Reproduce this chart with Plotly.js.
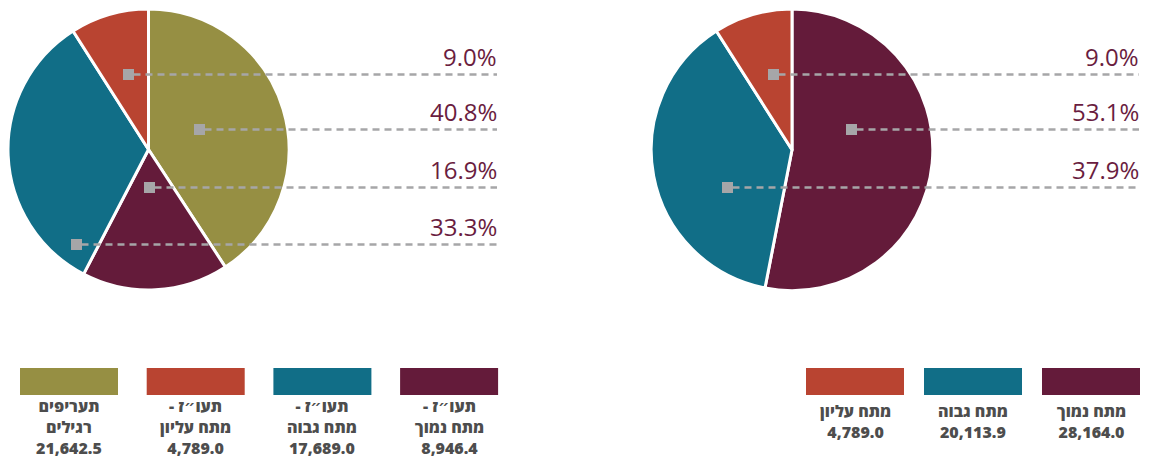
<!DOCTYPE html>
<html>
<head>
<meta charset="utf-8">
<script src="https://cdn.plot.ly/plotly-3.0.1.min.js"></script>
<style>
  html, body { margin: 0; padding: 0; background: #fff; }
  #chart { width: 1154px; height: 459px; }
</style>
</head>
<body>
<div id="chart"></div>
<script>
// left pie: by tariff type
const leftKeys = ['regular', 'low', 'high', 'top'];
const leftValues = [21642.5, 8946.4, 17689.0, 4789.0];
const leftLegendOrder = ['regular', 'top', 'high', 'low'];

// right pie: by voltage
const rightKeys = ['low', 'high', 'top'];
const rightValues = [28164.0, 20113.9, 4789.0];
const rightLegendOrder = ['top', 'high', 'low'];

const leftNames = {
  regular: ['תעריפים', 'רגילים'],
  low: ['תעו״ז -\u200F', 'מתח נמוך'],
  high: ['תעו״ז -\u200F', 'מתח גבוה'],
  top: ['תעו״ז -\u200F', 'מתח עליון']
};
const rightNames = {
  low: ['מתח נמוך'],
  high: ['מתח גבוה'],
  top: ['מתח עליון']
};

const colors = { regular: '#968f43', low: '#641b3a', high: '#116e87', top: '#b94431' };

// callout rows (pixel layout): which slice, y of the row, x of the square
const leftCallouts = [
  { key: 'top', y: 74.5, x: 128.5 },
  { key: 'regular', y: 129.5, x: 199.5 },
  { key: 'low', y: 187.5, x: 149.5 },
  { key: 'high', y: 244.5, x: 76.5 }
];
const rightCallouts = [
  { key: 'top', y: 74.5, x: 773.5 },
  { key: 'low', y: 129.5, x: 851.5 },
  { key: 'high', y: 187.5, x: 727.5 }
];

const W = 1154, H = 459;
const px = x => x / W;
const py = y => 1 - y / H;
const fmt = v => v.toLocaleString('en-US', { minimumFractionDigits: 1, maximumFractionDigits: 1 });
const font = 'Open Sans, Noto Sans, DejaVu Sans, sans-serif';

function pieTrace(keys, values, cx, cy, r) {
  return {
    type: 'pie',
    values: values,
    labels: keys,
    sort: false,
    direction: 'clockwise',
    rotation: 0,
    textinfo: 'none',
    hoverinfo: 'none',
    showlegend: false,
    marker: { colors: keys.map(k => colors[k]), line: { color: '#ffffff', width: 3 } },
    domain: { x: [px(cx - r), px(cx + r)], y: [py(cy + r), py(cy - r)] }
  };
}

const shapes = [];
const annotations = [];

function addCallouts(callouts, keys, values, xEnd) {
  const total = values.reduce((a, b) => a + b, 0);
  callouts.forEach(c => {
    const v = values[keys.indexOf(c.key)];
    shapes.push({
      type: 'line', xref: 'paper', yref: 'paper',
      x0: px(c.x + 5), x1: px(xEnd), y0: py(c.y), y1: py(c.y),
      line: { color: '#a6a6a8', width: 2.5, dash: '7px,5px' }
    });
    shapes.push({
      type: 'rect', xref: 'paper', yref: 'paper',
      x0: px(c.x - 5.5), x1: px(c.x + 5.5), y0: py(c.y + 5.5), y1: py(c.y - 5.5),
      fillcolor: '#a6a6a8', line: { width: 0 }
    });
    annotations.push({
      xref: 'paper', yref: 'paper', x: px(xEnd + 2), y: py(c.y - 18),
      xanchor: 'right', yanchor: 'middle', showarrow: false,
      text: (v / total * 100).toFixed(1) + '%',
      font: { family: font, size: 24, color: '#6a1d40' }
    });
  });
}

function addLegend(order, keys, values, names, x0, step, textY) {
  order.forEach((k, i) => {
    const left = x0 + i * step;
    shapes.push({
      type: 'rect', xref: 'paper', yref: 'paper',
      x0: px(left), x1: px(left + 98), y0: py(395), y1: py(368),
      fillcolor: colors[k], line: { width: 0 }
    });
    const lines = names[k].concat([fmt(values[keys.indexOf(k)])]);
    annotations.push({
      xref: 'paper', yref: 'paper', x: px(left + 49), y: py(textY),
      xanchor: 'center', yanchor: 'middle', showarrow: false, borderpad: 0,
      align: 'center',
      text: lines.join('<br>'),
      font: { family: font, size: 16, weight: 800, color: '#4d4d4d' }
    });
  });
}

addCallouts(leftCallouts, leftKeys, leftValues, 497);
addCallouts(rightCallouts, rightKeys, rightValues, 1139);
addLegend(leftLegendOrder, leftKeys, leftValues, leftNames, 20, 126.7, 426.5);
addLegend(rightLegendOrder, rightKeys, rightValues, rightNames, 806, 118, 421);

const data = [
  pieTrace(leftKeys, leftValues, 148.5, 149.5, 140.5),
  pieTrace(rightKeys, rightValues, 792, 149.8, 140.8)
];

const layout = {
  width: W, height: H,
  margin: { l: 0, r: 0, t: 0, b: 0 },
  paper_bgcolor: '#ffffff',
  plot_bgcolor: '#ffffff',
  showlegend: false,
  shapes: shapes,
  annotations: annotations
};

Plotly.newPlot('chart', data, layout, { displayModeBar: false, staticPlot: true });
</script>
</body>
</html>
